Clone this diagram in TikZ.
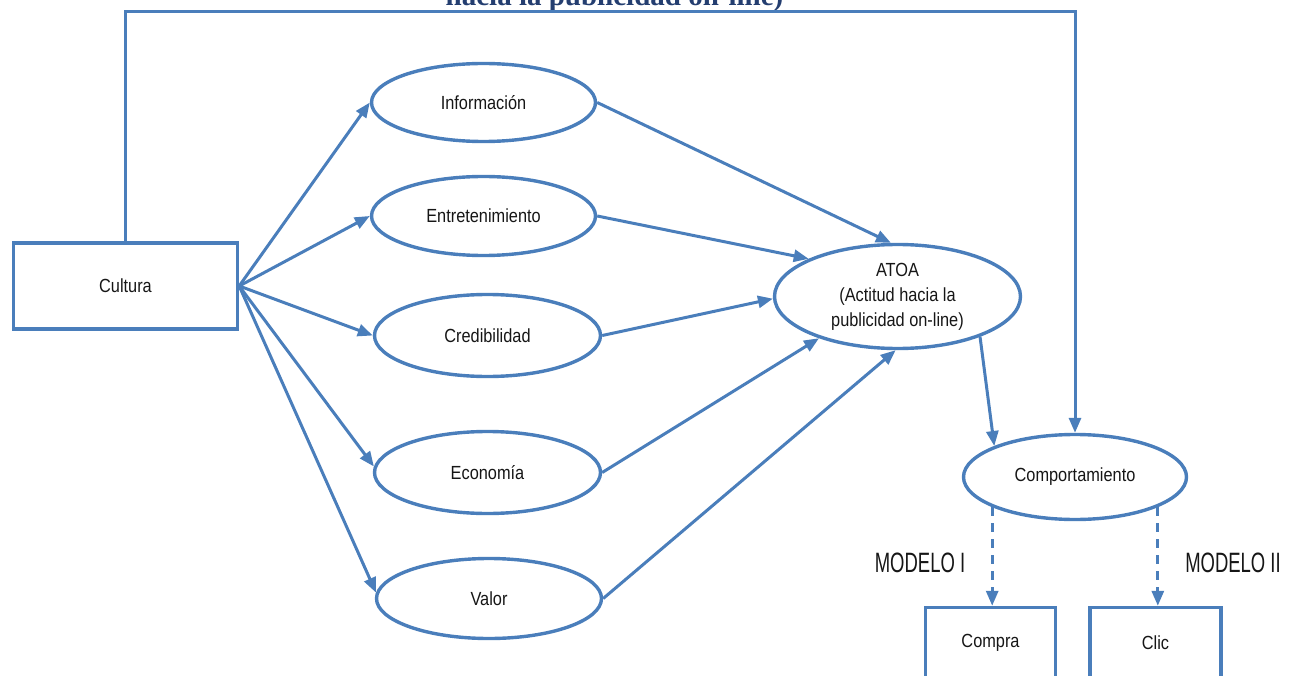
\documentclass[tikz,border=0pt]{standalone}
\usepackage{fontspec}
\setmainfont{Liberation Serif}
\newfontfamily\labelfont[FakeStretch=0.86]{Liberation Sans}
\newfontfamily\modelfont[FakeStretch=0.66]{Liberation Sans}
\usetikzlibrary{shapes.geometric,arrows.meta}
\definecolor{edgeblue}{RGB}{74,126,187}
\definecolor{titleblue}{RGB}{36,62,112}
\definecolor{labelgray}{RGB}{22,22,22}

\begin{document}
\begin{tikzpicture}[x=1pt,y=-1pt,
  every node/.style={text=labelgray},
  construct/.style={ellipse, draw=edgeblue, line width=3.4pt, inner sep=0pt,
    font=\labelfont\fontsize{19}{25}\selectfont, align=center},
  boxnode/.style={rectangle, draw=edgeblue, line width=3.4pt, inner sep=0pt,
    font=\labelfont\fontsize{19}{25}\selectfont},
  link/.style={draw=edgeblue, line width=3pt, -{Triangle[length=15pt,width=12pt]}},
  dashedlink/.style={link, dash pattern=on 9pt off 7pt},
  modeltag/.style={font=\modelfont\fontsize{28}{30}\selectfont, inner sep=0pt}
]
\useasboundingbox (0,0) rectangle (1298,676);
\clip (0,0) rectangle (1298,676);

% heading line, partly outside the frame
\node[anchor=base, inner sep=0pt, text=titleblue,
  font=\bfseries\fontsize{29}{30}\selectfont] (heading) at (614.5,6) {hacia la publicidad on-line)};

% antecedent
\node[boxnode, minimum width=224pt, minimum height=86pt] (cultura) at (125.5,286) {Cultura};

% dimensions of the attitude
\node[construct, minimum width=224pt, minimum height=78pt] (info)  at (483.5,102.5) {Información};
\node[construct, minimum width=224pt, minimum height=79pt] (entr)  at (483.5,216)   {Entretenimiento};
\node[construct, minimum width=226pt, minimum height=82pt] (cred)  at (487.5,335.5) {Credibilidad};
\node[construct, minimum width=226pt, minimum height=82pt] (econ)  at (487.5,472.5) {Economía};
\node[construct, minimum width=225pt, minimum height=80pt] (valor) at (489,598.5)   {Valor};

% attitude and behaviour
\node[construct, minimum width=246pt, minimum height=104pt] (atoa) at (897.5,296.5)
  {ATOA\\(Actitud hacia la\\publicidad on-line)};
\node[construct, minimum width=223pt, minimum height=85pt] (comport) at (1075,477) {Comportamiento};

% outcomes
\node[boxnode, minimum width=130pt, minimum height=71pt] (compra) at (990.5,643) {Compra};
\node[boxnode, minimum width=131pt, minimum height=71pt] (clic)   at (1155.5,643) {Clic};

\node[modeltag] (m1) at (920,563) {MODELO I};
\node[modeltag] (m2) at (1233,563) {MODELO II};

% culture to each dimension
\draw[link] (cultura.east) -- (info.west);
\draw[link] (cultura.east) -- (entr.west);
\draw[link] (cultura.east) -- (cred.west);
\draw[link] (cultura.east) -- (econ.177);
\draw[link] (cultura.east) -- (valor.177);

% dimensions to attitude
\draw[link] (info.east)  -- (atoa.97);
\draw[link] (entr.east)  -- (atoa.157);
\draw[link] (cred.east)  -- (atoa.181);
\draw[link] (econ.east)  -- (atoa.208);
\draw[link] (valor.east) -- (atoa.268);

% attitude to behaviour
\draw[link] (atoa.334) -- (comport.159);

% direct path from culture to behaviour across the top
\coordinate (topline) at (600,12);
\draw[link] (cultura.north) -- (cultura.north |- topline) -| (comport.north);

% behaviour measures
\draw[dashedlink] (comport.200) -- (comport.200 |- compra.north);
\draw[dashedlink] (comport.340) -- (comport.340 |- clic.north);
\end{tikzpicture}
\end{document}
